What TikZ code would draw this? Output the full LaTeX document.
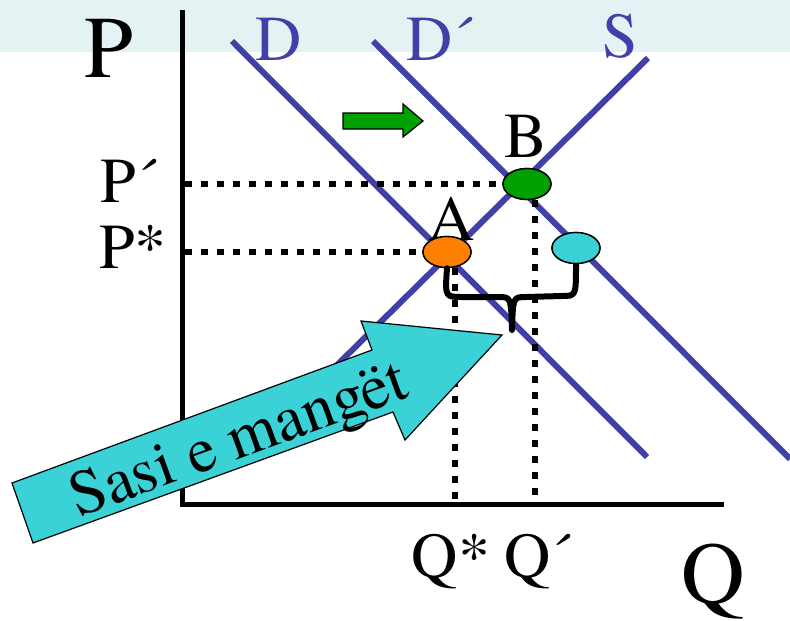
\documentclass[tikz,border=0pt]{standalone}
\usepackage{fontspec}
\setmainfont{texgyretermes-regular.otf}
\newfontfamily\chartfont{texgyretermes-regular.otf}
\usetikzlibrary{shapes.geometric, calc}

\definecolor{curveblue}{RGB}{64,64,168}
\definecolor{bandcyan}{RGB}{228,242,243}
\definecolor{shortcyan}{RGB}{58,210,214}
\definecolor{ptorange}{RGB}{255,128,0}
\definecolor{ptgreen}{RGB}{0,160,0}

\tikzset{
  curve/.style={curveblue, line width=6pt},
  axisline/.style={line width=5pt},
  guide/.style={line width=6pt, dash pattern=on 7pt off 9pt},
  eqpt/.style={ellipse, draw, line width=1.4pt, minimum width=48pt, minimum height=31pt, inner sep=0pt},
  lbl/.style={font=\chartfont\fontsize{64}{64}\selectfont, inner sep=0pt, anchor=base},
  biglbl/.style={font=\chartfont\fontsize{88}{88}\selectfont, inner sep=0pt, anchor=base},
}

\begin{document}
\begin{tikzpicture}[x=1pt,y=-1pt]
\useasboundingbox (0,0) rectangle (790,621);
\fill[bandcyan] (0,0) rectangle (790,52);

% axes
\draw[axisline] (182,10) -- (182,506);
\draw[axisline] (180,504) -- (724,504);

% demand and supply
\draw[curve] (232,41) -- (647,457);
\draw[curve] (373,41) -- (790,459);
\draw[curve] (648,58) -- (330,372);

\node[lbl, curveblue] (lblD) at (279,60) {D};
\node[lbl, curveblue] (lblDp) at (440,60) {D´};
\node[lbl, curveblue] (lblS) at (620,57) {S};

% points
\node[eqpt, fill=ptorange] (eqA) at (447,252) {};
\node[eqpt, fill=ptgreen] (eqB) at (527,184) {};
\node[eqpt, fill=shortcyan] (eqC) at (576,248) {};
\node[lbl] (lblA) at (452,240) {A};
\node[lbl] (lblB) at (526,157) {B};

% guides to the axes
\coordinate (pB) at (185,184);
\coordinate (pA) at (185,252);
\coordinate (qA) at (455,502);
\coordinate (qB) at (535,502);
\draw[guide] (pB) -- (eqB.west);
\draw[guide] (pA) -- (eqA.west);
\draw[guide] (eqB.south -| qB) -- (qB);
\draw[guide] (eqA.south -| qA) -- (qA);
\node[eqpt, fill=ptorange] at (eqA) {};
\node[eqpt, fill=ptgreen] at (eqB) {};

% brace under the gap
\draw[line width=6pt, line cap=round, line join=round]
  (eqA.south) .. controls (445,297) .. (462,297) -- (498,297)
  .. controls (511,297) .. (512,330) coordinate (gapTip)
  .. controls (513,297) .. (526,297) -- (562,296)
  .. controls (576,296) .. (eqC.south);
\node[eqpt, fill=shortcyan] at (eqC) {};

% shift arrow
\filldraw[fill=ptgreen, line width=1.2pt]
  (343,113) -- (403,113) -- (403,104) -- (423,121) -- (403,137) -- (403,129) -- (343,129) -- cycle;

% shortage arrow
\filldraw[fill=shortcyan, line width=1.2pt]
  (12,483) -- (372,350) -- (361,321) -- (502,335) -- (405,440) -- (393,412) -- (33,543) -- cycle;
\node[font=\chartfont\fontsize{64}{64}\selectfont, inner sep=0pt, rotate=20] (lblShort) at (240,443) {Sasi e mangët};

% axis labels
\node[biglbl] (lblP) at (109,77) {P};
\node[biglbl] (lblQ) at (713,603) {Q};
\node[lbl] (lblPp) at (129,202) {P´};
\node[lbl] (lblPs) at (133,268) {P*};
\node[lbl] (lblQs) at (451,577) {Q*};
\node[lbl] (lblQp) at (538,577) {Q´};
\end{tikzpicture}
\end{document}
